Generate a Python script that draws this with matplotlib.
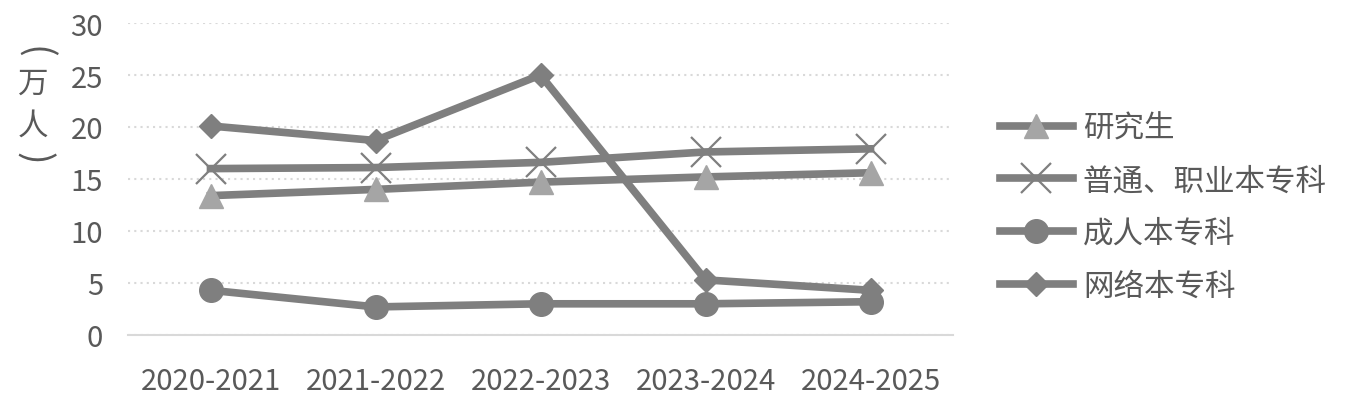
import matplotlib
matplotlib.use("Agg")
import matplotlib.pyplot as plt

plt.rcParams['font.family'] = ['Noto Sans CJK SC', 'DejaVu Sans']

categories = ["2020-2021", "2021-2022", "2022-2023", "2023-2024", "2024-2025"]
graduate = [13.4, 14.0, 14.7, 15.2, 15.6]
regular = [16.0, 16.1, 16.6, 17.6, 17.9]
adult = [4.3, 2.7, 3.0, 3.0, 3.2]
online = [20.1, 18.7, 25.0, 5.3, 4.3]
series_names = ["研究生", "普通、职业本专科", "成人本专科", "网络本专科"]
yticks = [0, 5, 10, 15, 20, 25, 30]

line_c = "#7f7f7f"
text_c = "#595959"
grid_c = "#d9d9d9"

fig = plt.figure(figsize=(13.5, 4.02), dpi=100)
ax = fig.add_axes([128/1350, 1-336/402, 825/1350, 312/402])

x = list(range(len(categories)))
lw = 5.5
ax.plot(x, graduate, color=line_c, lw=lw, marker='^', markersize=17,
        markerfacecolor="#a5a5a5", markeredgecolor="#a5a5a5", label=series_names[0], zorder=3)
ax.plot(x, regular, color=line_c, lw=lw, marker='x', markersize=21, markeredgewidth=1.6,
        markeredgecolor=line_c, label=series_names[1], zorder=3)
ax.plot(x, adult, color=line_c, lw=lw, marker='o', markersize=17,
        markerfacecolor=line_c, markeredgecolor=line_c, label=series_names[2], zorder=3)
ax.plot(x, online, color=line_c, lw=lw, marker='D', markersize=12,
        markerfacecolor=line_c, markeredgecolor=line_c, label=series_names[3], zorder=3)

ax.set_xlim(-0.5, len(categories) - 0.5)
ax.set_ylim(0, 30)
ax.set_yticks(yticks)
ax.set_xticks(x)
ax.set_xticklabels(categories)
ax.tick_params(axis='both', length=0, labelsize=21, colors=text_c)
ax.tick_params(axis='y', pad=18)
ax.tick_params(axis='x', pad=22)
for s in ['top', 'right', 'left']:
    ax.spines[s].set_visible(False)
ax.spines['bottom'].set_color(grid_c)
ax.spines['bottom'].set_linewidth(1.5)
ax.yaxis.grid(True, color=grid_c, linestyle=(0, (1, 2)), linewidth=1.5)
ax.set_axisbelow(True)

# vertical y-axis unit label: rotated brackets, upright characters
lx = 33/1350
fig.text(lx, 1-52/402, "(", ha='center', va='center', rotation=-90,
         fontsize=27, color=text_c)
fig.text(lx, 1-84/402, "万", ha='center', va='center', fontsize=22, color=text_c)
fig.text(lx, 1-126/402, "人", ha='center', va='center', fontsize=22, color=text_c)
fig.text(lx, 1-158/402, ")", ha='center', va='center', rotation=-90,
         fontsize=27, color=text_c)

leg = ax.legend(loc='center left', bbox_to_anchor=(972/1350, 1-208/402),
                bbox_transform=fig.transFigure, frameon=False, fontsize=22,
                handlelength=2.4, labelspacing=0.71, handletextpad=0.33, labelcolor=text_c)

fig.savefig("out.png", dpi=100)
